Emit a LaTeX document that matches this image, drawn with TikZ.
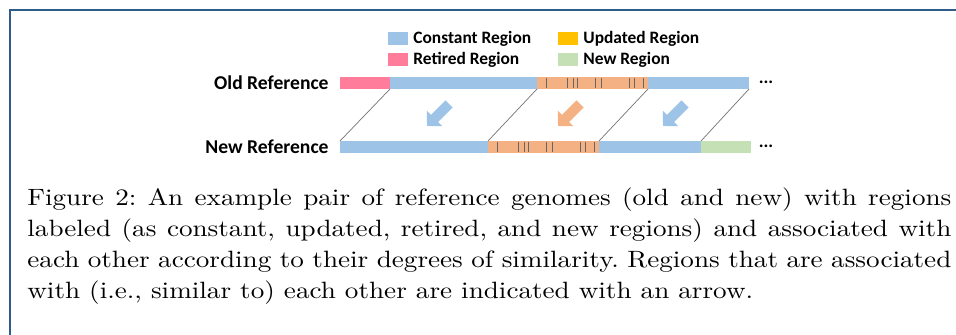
\documentclass[tikz,border=0pt]{standalone}
\usepackage{fontspec}
\newfontfamily\labelfont{Carlito}
\newfontfamily\captionfont{lmroman10-regular}[Extension=.otf, FakeStretch=1.15]
\usetikzlibrary{arrows.meta,calc}
\definecolor{constant}{HTML}{9DC3E6}
\definecolor{retired}{HTML}{FF7C9A}
\definecolor{updated}{HTML}{FFC000}
\definecolor{updatedlight}{HTML}{F4B183}
\definecolor{newregion}{HTML}{C5E0B4}
\definecolor{framecolor}{HTML}{2F5C8A}
\begin{document}
\begin{tikzpicture}[x=0.5pt, y=-0.5pt,
    region/.style={inner sep=0pt, outer sep=0pt, minimum height=6pt, anchor=west},
    swatch/.style={inner sep=0pt, outer sep=0pt, minimum width=10pt, minimum height=6.5pt, anchor=west},
    legend/.style={inner sep=0pt, anchor=west, font=\labelfont\bfseries\fontsize{8.7}{10}\selectfont},
    genome/.style={inner sep=0pt, anchor=east, font=\labelfont\bfseries\fontsize{9.8}{11}\selectfont},
    tick/.style={draw=black!60, line width=0.5pt},
    link/.style={draw=black!55, line width=0.35pt},
    similar/.style={line width=5pt, -{Triangle[width=10.5pt, length=5.3pt]}}]
    \useasboundingbox (0,0) rectangle (956,335);
    \draw[framecolor, line width=0.8pt] (10,335) -- (10,10) -- (956,10);

    \node[swatch, fill=constant] (constant swatch) at (388,38.5) {};
    \node[legend] (constant label) at (413,38.5) {Constant Region};
    \node[swatch, fill=retired] (retired swatch) at (388,59.5) {};
    \node[legend] (retired label) at (413,59.5) {Retired Region};
    \node[swatch, fill=updated] (updated swatch) at (558,38.5) {};
    \node[legend] (updated label) at (583,38.5) {Updated Region};
    \node[swatch, fill=newregion] (new swatch) at (558,59.5) {};
    \node[legend] (new label) at (583,59.5) {New Region};

    \node[genome] (old reference) at (329,83) {Old Reference};
    \node[region, fill=retired, minimum width=25pt] (old retired) at (340,83) {};
    \node[region, fill=constant, minimum width=73.5pt] (old constant1) at (old retired.east) {};
    \node[region, fill=updatedlight, minimum width=55.5pt] (old updated) at (old constant1.east) {};
    \node[region, fill=constant, minimum width=50.5pt] (old constant2) at (old updated.east) {};
    \node[font=\labelfont\bfseries\fontsize{9}{10}\selectfont] (old dots) at (766,82) {...};

    \node[genome] (new reference) at (329,147) {New Reference};
    \node[region, fill=constant, minimum width=74pt] (new constant1) at (340,147) {};
    \node[region, fill=updatedlight, minimum width=55.5pt] (new updated) at (new constant1.east) {};
    \node[region, fill=constant, minimum width=51pt] (new constant2) at (new updated.east) {};
    \node[region, fill=newregion, minimum width=25pt] (new region) at (new constant2.east) {};
    \node[font=\labelfont\bfseries\fontsize{9}{10}\selectfont] (new dots) at (766,146) {...};

    \foreach \t in {9,30.5,36,40,58,64.5,92.5,97,106} {
        \draw[tick] ($(old updated.south west)+(\t,-1)$) -- ($(old updated.north west)+(\t,1)$);
        \draw[tick] ($(new updated.south west)+(\t,-1)$) -- ($(new updated.north west)+(\t,1)$);
    }

    \draw[link] (old constant1.south west) -- (new constant1.north west);
    \draw[link] (old updated.south west) -- (new updated.north west);
    \draw[link] (old constant2.south west) -- (new constant2.north west);
    \draw[link] (old constant2.south east) -- (new region.north west);

    \coordinate (arrow1 tail) at (449,104);
    \coordinate (arrow1 tip) at (427,126);
    \coordinate (arrow2 tail) at (580,104);
    \coordinate (arrow2 tip) at (558,126);
    \coordinate (arrow3 tail) at (685,104);
    \coordinate (arrow3 tip) at (663,126);
    \draw[similar, constant] (arrow1 tail) -- (arrow1 tip);
    \draw[similar, updatedlight] (arrow2 tail) -- (arrow2 tip);
    \draw[similar, constant] (arrow3 tail) -- (arrow3 tip);

    \node[inner sep=0pt, anchor=north west, text width=462pt, align=justify,
        font=\captionfont\fontsize{11.8}{15.5}\selectfont\frenchspacing] (caption) at (27,187.5)
        {Figure 2: An example pair of reference genomes (old and new) with regions labeled (as constant, updated, retired, and new regions) and associated with each other according to their degrees of similarity. Regions that are associated with (i.e., similar to) each other are indicated with an arrow.};
\end{tikzpicture}
\end{document}
